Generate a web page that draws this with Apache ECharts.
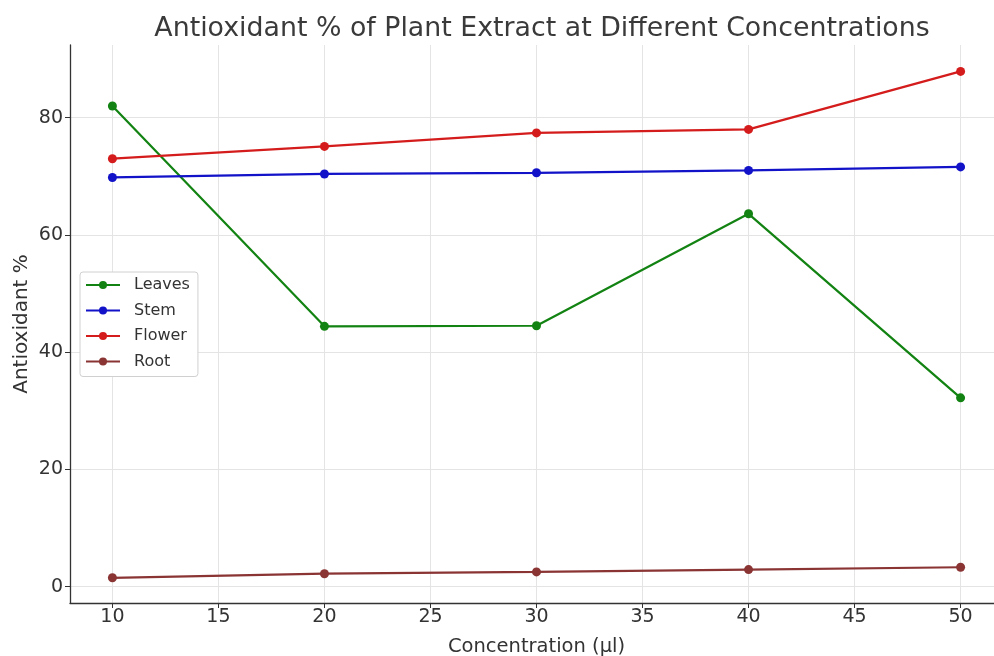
<!DOCTYPE html>
<html><head><meta charset="utf-8">
<script src="https://cdn.jsdelivr.net/npm/echarts@6/dist/echarts.min.js"></script>
<style>html,body{margin:0;padding:0;background:#fff}#c{width:994px;height:656px}</style>
</head><body><div id="c"></div>
<script>
const concentrations = [10, 20, 30, 40, 50];
const leaves = [82.0, 44.4, 44.5, 63.6, 32.2];
const stem = [69.8, 70.4, 70.6, 71.0, 71.6];
const flower = [73.0, 75.1, 77.4, 78.0, 87.9];
const root = [1.5, 2.2, 2.5, 2.9, 3.3];
const xTicks = [10, 15, 20, 25, 30, 35, 40, 45, 50];
const yTicks = [0, 20, 40, 60, 80];

const font = 'DejaVu Sans';
function mk(name, vals, color) {
  return {
    name: name, type: 'line', data: concentrations.map((c, i) => [c, vals[i]]),
    symbol: 'circle', symbolSize: 9,
    lineStyle: { color: color, width: 2.2 }, itemStyle: { color: color },
    emphasis: { disabled: true }
  };
}
const chart = echarts.init(document.getElementById('c'), null, { renderer: 'canvas' });
chart.setOption({
  animation: false,
  backgroundColor: '#fff',
  title: {
    text: 'Antioxidant % of Plant Extract at Different Concentrations',
    left: 537, top: 11, textAlign: 'center',
    textStyle: { fontFamily: font, fontSize: 26.8, fontWeight: 'normal', color: '#3a3a3a' }
  },
  legend: {
    orient: 'vertical', left: 80, top: 272,
    itemWidth: 34, itemHeight: 10, itemGap: 9.5,
    padding: [5, 8, 7, 5],
    backgroundColor: '#fff', borderColor: '#d0d0d0', borderWidth: 1, borderRadius: 3,
    textStyle: { fontFamily: font, fontSize: 16, lineHeight: 16, color: '#333', padding: [0, 0, 0, 9] },
    data: ['Leaves', 'Stem', 'Flower', 'Root']
  },
  grid: { left: 70, width: 933, top: 45, bottom: 53, containLabel: false, outerBoundsMode: 'none' },
  xAxis: {
    type: 'value', min: 8, max: 52,
    name: 'Concentration (µl)', nameLocation: 'middle', nameGap: 34,
    nameTextStyle: { fontFamily: font, fontSize: 19.5, color: '#333' },
    axisLine: { show: true, onZero: false, lineStyle: { color: '#333', width: 1.3 } },
    axisTick: { show: true, length: 5, inside: false, customValues: xTicks, lineStyle: { color: '#333' } },
    axisLabel: { customValues: xTicks, margin: 5, fontFamily: font, fontSize: 19, color: '#333' },
    splitLine: { show: true, lineStyle: { color: '#e4e4e4', width: 1 } }
  },
  yAxis: {
    type: 'value', min: -2.8, max: 92.4,
    name: 'Antioxidant %', nameLocation: 'middle', nameGap: 38, nameRotate: 90, nameMoveOverlap: false,
    nameTextStyle: { fontFamily: font, fontSize: 20, color: '#333' },
    axisLine: { show: true, onZero: false, lineStyle: { color: '#333', width: 1.3 } },
    axisTick: { show: true, length: 5, customValues: yTicks, lineStyle: { color: '#333' } },
    axisLabel: { customValues: yTicks, margin: 7, fontFamily: font, fontSize: 19, color: '#333' },
    splitLine: { show: true, lineStyle: { color: '#e4e4e4', width: 1 } }
  },
  series: [
    mk('Leaves', leaves, '#128312'),
    mk('Stem', stem, '#1212c8'),
    mk('Flower', flower, '#d41c1c'),
    mk('Root', root, '#8a3434')
  ]
});
</script></body></html>
